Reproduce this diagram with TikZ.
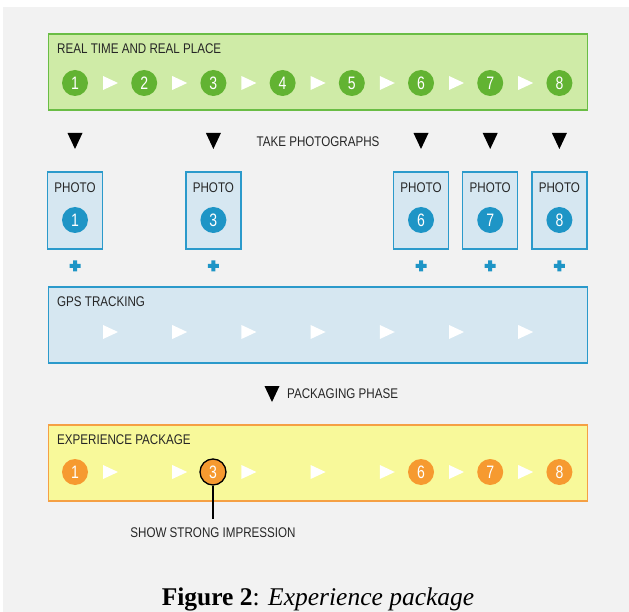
\documentclass[tikz,border=0pt]{standalone}
\usepackage{fontspec}
\setmainfont{Liberation Serif}
\newfontfamily\condfont[FakeStretch=0.83]{Liberation Sans}
\newfontfamily\digitfont[FakeStretch=0.78]{Liberation Sans}
\usetikzlibrary{positioning}
\definecolor{bggray}{HTML}{F2F2F2}
\definecolor{greenfill}{HTML}{CFEBA7}
\definecolor{greenline}{HTML}{6ABD45}
\definecolor{greendot}{HTML}{62B332}
\definecolor{bluefill}{HTML}{D6E7F1}
\definecolor{blueline}{HTML}{2B9ACB}
\definecolor{bluedot}{HTML}{1E95C6}
\definecolor{yellowfill}{HTML}{F8F99A}
\definecolor{orangeline}{HTML}{F5A044}
\definecolor{orangedot}{HTML}{F69A30}
\newcommand{\fwd}[2]{\fill[white,shift={({#1},{#2})}] (-7,-7) -- (8,0) -- (-7,7) -- cycle;}
\newcommand{\down}[2]{\fill[black,shift={({#1},{#2})}] (-7.5,-8) -- (7.5,-8) -- (0,8) -- cycle;}

\begin{document}
\begin{tikzpicture}[x=1pt,y=-1pt,
    panel/.style={rectangle,minimum width=539pt,minimum height=76pt,inner sep=0pt,line width=1.6pt},
    photobox/.style={rectangle,draw=blueline,fill=bluefill,minimum width=55pt,minimum height=77pt,inner sep=0pt,line width=1.4pt},
    caps/.style={font=\condfont\fontsize{14}{16}\selectfont,inner sep=0pt,text=black!85},
    dot/.style={circle,minimum size=26pt,inner sep=0pt,text=white,font=\digitfont\fontsize{18}{18}\selectfont}]
  \useasboundingbox (0,0) rectangle (629,612);
  \fill[bggray] (3,7) rectangle (629,612);

  % real time row
  \node[panel,draw=greenline,fill=greenfill] (realbox) at (318,72) {};
  \node[caps,anchor=west] (realtitle) at (57,49) {REAL TIME AND REAL PLACE};
  \foreach \i in {1,...,8}
    \node[dot,fill=greendot] (g\i) at ({75+69.2*(\i-1)},83) {\i};
  \foreach \i in {1,...,7} {\fwd{110+69.2*(\i-1)}{83}}

  % photographs
  \node[caps] (taketext) at (318,142) {TAKE PHOTOGRAPHS};
  \foreach \i in {1,3,6,7,8} {
    \down{75+69.2*(\i-1)}{141}
    \node[photobox] (ph\i) at ({75+69.2*(\i-1)},210.5) {};
    \node[caps] (phtext\i) at ({75+69.2*(\i-1)},188) {PHOTO};
    \node[dot,fill=bluedot] (p\i) at ({75+69.2*(\i-1)},220) {\i};
    \fill[bluedot,shift={({75+69.2*(\i-1)},266)}] (-5.5,-2) rectangle (5.5,2) (-2,-5.5) rectangle (2,5.5);
  }

  % gps
  \node[panel,draw=blueline,fill=bluefill] (gpsbox) at (318,325) {};
  \node[caps,anchor=west] (gpstitle) at (57,302) {GPS TRACKING};
  \foreach \i in {1,...,7} {\fwd{110+69.2*(\i-1)}{332}}

  \down{272}{394}
  \node[caps,anchor=west] (packtext) at (287,394) {PACKAGING PHASE};

  % experience package
  \node[panel,draw=orangeline,fill=yellowfill] (expbox) at (318,463) {};
  \node[caps,anchor=west] (exptitle) at (57,440) {EXPERIENCE PACKAGE};
  \foreach \i in {1,...,7} {\fwd{110+69.2*(\i-1)}{472}}
  \foreach \i in {1,6,7,8}
    \node[dot,fill=orangedot] (e\i) at ({75+69.2*(\i-1)},472) {\i};
  \node[dot,fill=orangedot,draw=black,line width=1.3pt] (e3) at (213,472) {3};

  \node[caps] (imp) at (213,533) {SHOW STRONG IMPRESSION};
  \draw[line width=1.3pt,shorten >=9pt] (e3) -- (imp);

  \node[font=\fontsize{25.5}{30}\selectfont,anchor=base,inner sep=0pt] (caption) at (318,605)
    {\textbf{Figure 2}: \textit{Experience package}};
\end{tikzpicture}
\end{document}
